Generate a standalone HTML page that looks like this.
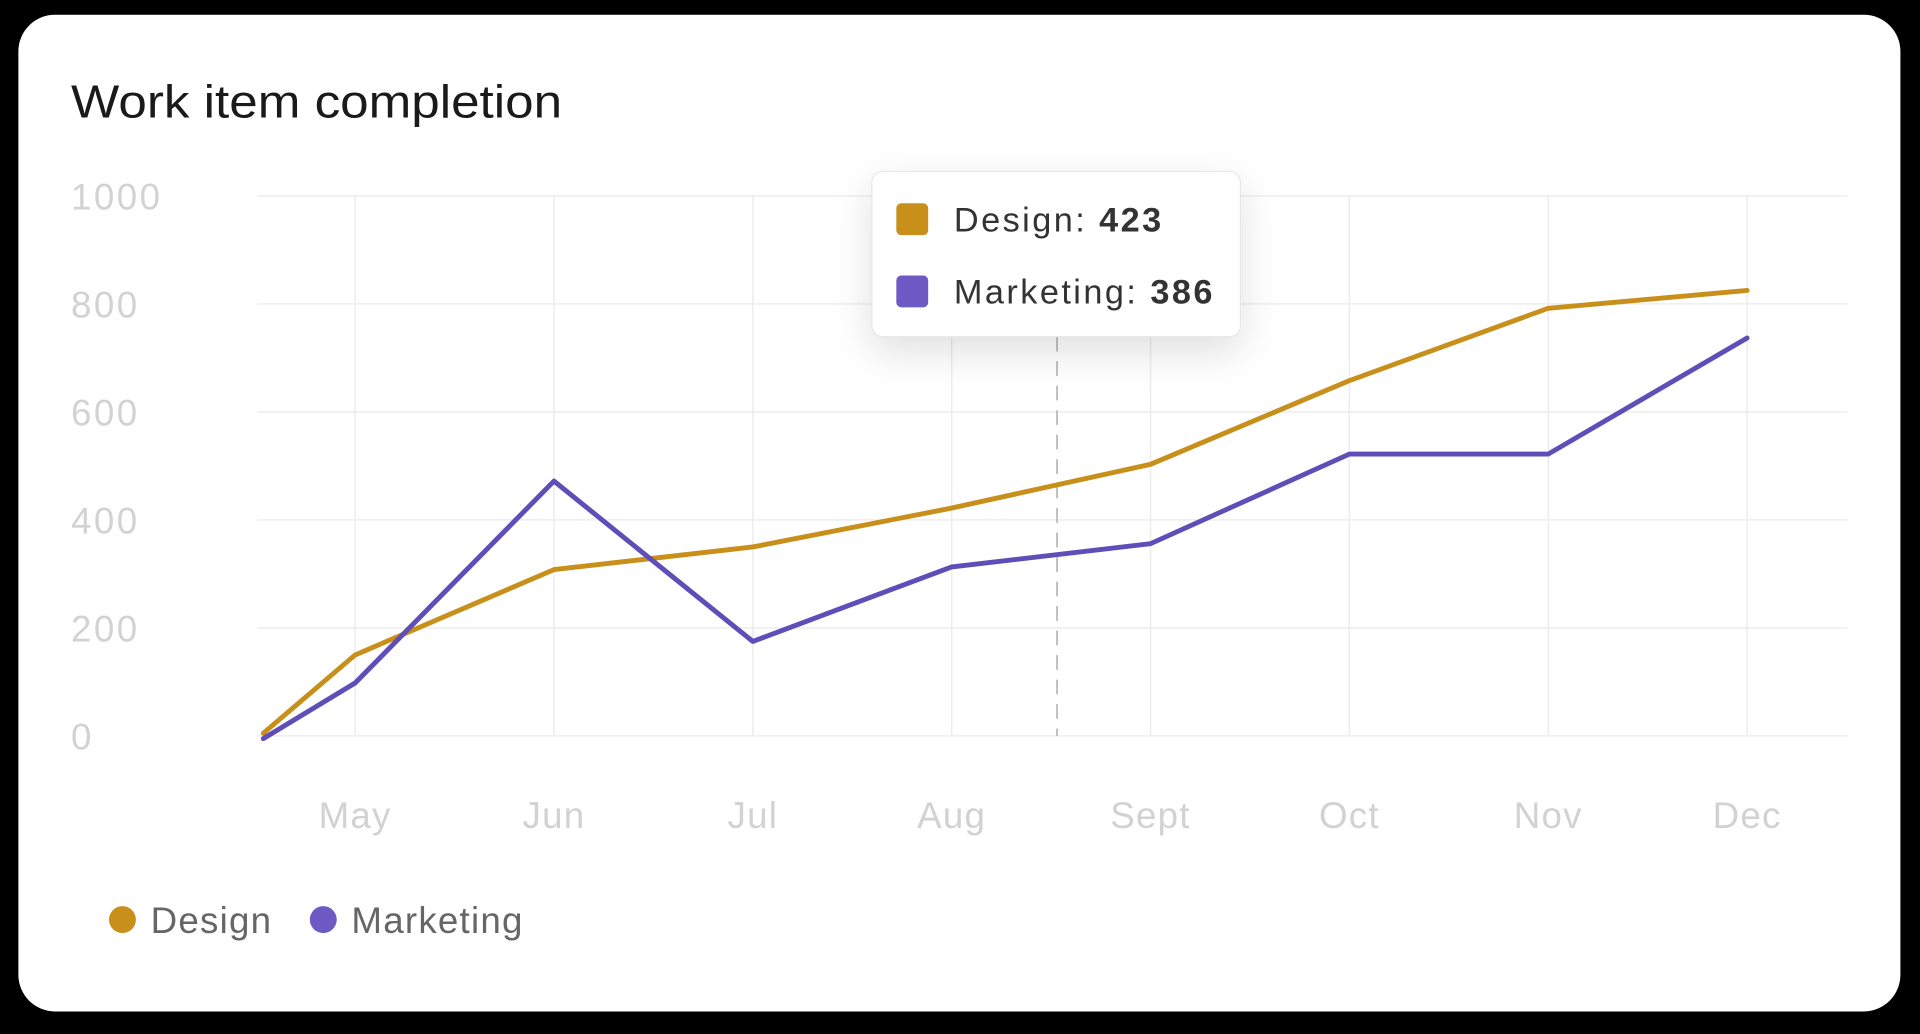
<!DOCTYPE html>
<html><head><meta charset="utf-8">
<style>
html,body{margin:0;padding:0;background:#000;width:1920px;height:1034px;overflow:hidden}
svg{display:block;font-family:"Liberation Sans",sans-serif}
</style></head>
<body>
<svg id="chart" width="1920" height="1034" viewBox="0 0 1568 844.4" xmlns="http://www.w3.org/2000/svg">
<defs>
<filter id="sh" x="-40%" y="-40%" width="180%" height="220%"><feDropShadow dx="0" dy="12" stdDeviation="16" flood-color="#000" flood-opacity="0.12"/></filter>
</defs>
<rect x="15" y="12" width="1537" height="814" rx="30" fill="#fff"/>
<text x="58" y="96" font-size="38" fill="#1a1a1a" textLength="401" lengthAdjust="spacingAndGlyphs">Work item completion</text>
<g id="grid"></g>
<g id="lines"></g>
<g>
<circle cx="100" cy="751" r="11" fill="#C98F1B"/>
<text x="123" y="762" font-size="30" fill="#666" letter-spacing="1">Design</text>
<circle cx="264" cy="751" r="11" fill="#6D5AC4"/>
<text x="287" y="762" font-size="30" fill="#666" letter-spacing="1">Marketing</text>
</g>
<g filter="url(#sh)">
<rect x="712" y="140" width="301" height="135" rx="9" fill="#fff" stroke="#e6e6e6"/>
</g>
<g>
<rect x="732" y="166" width="26" height="26" rx="4" fill="#C98F1B"/>
<text x="779" y="189" font-size="28" fill="#333" letter-spacing="2">Design: <tspan font-weight="bold">423</tspan></text>
<rect x="732" y="225" width="26" height="26" rx="4" fill="#6D5AC4"/>
<text x="779" y="248" font-size="28" fill="#333" letter-spacing="2">Marketing: <tspan font-weight="bold">386</tspan></text>
</g>
</svg>
<script>
const categories = ['', 'May', 'Jun', 'Jul', 'Aug', 'Sept', 'Oct', 'Nov', 'Dec'];
const designValues = [5, 150, 308, 350, 422, 503, 658, 792, 825];
const marketingValues = [-5, 98, 472, 175, 313, 356, 522, 522, 737];
const yTicks = [0, 200, 400, 600, 800, 1000];
const hoverIndex = 4.53;

const NS = 'http://www.w3.org/2000/svg';
const left = 210, right = 1509, y0 = 601, y1 = 160;
const step = 162.4, firstTick = 290;
function x(i){ return i === 0 ? 215 : firstTick + (i - 1) * step; }
function y(v){ return y0 - (v / 1000) * (y0 - y1); }
function mk(tag, attrs, parent){ const e = document.createElementNS(NS, tag); for (const k in attrs) e.setAttribute(k, attrs[k]); parent.appendChild(e); return e; }

const grid = document.getElementById('grid');
yTicks.forEach(t => {
  const l = mk('line', {x1: left, x2: right, y1: y(t), y2: y(t), stroke: '#ececec', 'stroke-width': 1.2}, grid);
  
  
  const tx = mk('text', {x: 58, y: y(t) + 11, 'font-size': 30, fill: '#d2d2d2', 'letter-spacing': 2}, grid);
  tx.textContent = t;
  
  
});
categories.forEach((c, i) => {
  if (!c) return;
  const l = mk('line', {x1: x(i), x2: x(i), y1: y1, y2: y0, stroke: '#ececec', 'stroke-width': 1.2}, grid);
  
  
  const tx = mk('text', {x: x(i), y: 676, 'font-size': 30, fill: '#d2d2d2', 'text-anchor': 'middle', 'letter-spacing': 1}, grid);
  tx.textContent = c;
  
  
});
const hx = firstTick + (hoverIndex - 1) * step;
const cursor = mk('line', {x1: hx, x2: hx, y1: 275, y2: y0, stroke: '#bbb', 'stroke-width': 1.5, 'stroke-dasharray': '12 8'}, grid);



const lines = document.getElementById('lines');
function drawSeries(vals, color, name){
  const d = vals.map((v, i) => (i ? 'L' : 'M') + x(i) + ' ' + y(Math.max(v, -5))).join(' ');
  const p = mk('path', {d: d, fill: 'none', stroke: color, 'stroke-width': 4, 'stroke-linejoin': 'round', 'stroke-linecap': 'round'}, lines);
  
  
}
drawSeries(designValues, '#C98F1B', 'design-line');
drawSeries(marketingValues, '#5F4DB8', 'marketing-line');
</script>
</body></html>
